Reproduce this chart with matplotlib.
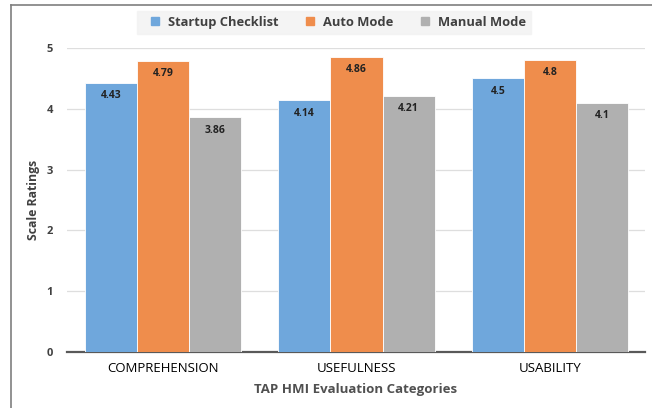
import numpy as np
import matplotlib.pyplot as plt
from matplotlib.lines import Line2D

categories = ["COMPREHENSION", "USEFULNESS", "USABILITY"]
series = ["Startup Checklist", "Auto Mode", "Manual Mode"]
startup = [4.43, 4.14, 4.5]
auto = [4.79, 4.86, 4.8]
manual = [3.86, 4.21, 4.1]
value_text = [["4.43", "4.14", "4.5"], ["4.79", "4.86", "4.8"], ["3.86", "4.21", "4.1"]]

colors = ["#6fa7dc", "#ef8d4c", "#b0b0b0"]

plt.rcParams["font.family"] = ["Open Sans", "DejaVu Sans"]

W, H = 652, 408
fig = plt.figure(figsize=(W / 100, H / 100), dpi=100)
ax = fig.add_axes([67 / W, 1 - 352 / H, (645 - 67) / W, (352 - 48) / H])

x = np.arange(len(categories))
bw = 0.269
for i, (vals, col) in enumerate(zip([startup, auto, manual], colors)):
    bars = ax.bar(x + (i - 1) * bw, vals, bw, color=col, edgecolor="white",
                  linewidth=0.6, zorder=3, label=series[i])
    for b, txt in zip(bars, value_text[i]):
        ax.text(b.get_x() + b.get_width() / 2, b.get_height() - 0.12, txt,
                ha="center", va="top", fontsize=7.5, fontweight="bold",
                color="#222222", zorder=4)

# category centres at x=163, 356, 550 px; 193.5 px per category
ax.set_xlim(-(163 - 67) / 193.5, 2 + (645 - 550) / 193.5)
ax.set_ylim(0, 5)
ax.set_yticks([0, 1, 2, 3, 4, 5])
ax.grid(axis="y", color="#dedede", linewidth=0.9, zorder=0)
for s in ["top", "right", "left"]:
    ax.spines[s].set_visible(False)
ax.spines["bottom"].set_color("#595959")
ax.spines["bottom"].set_linewidth(1.6)
ax.tick_params(axis="both", length=0)
ax.tick_params(axis="y", pad=10, labelsize=8)
for t in ax.get_yticklabels():
    t.set_fontweight("bold")
    t.set_color("#404040")
ax.set_xticks(x)
ax.set_xticklabels(categories, fontsize=9.5)
ax.tick_params(axis="x", pad=7)
ax.set_xlabel("TAP HMI Evaluation Categories", fontsize=9.5, fontweight="bold",
              color="#505050", labelpad=6)
ax.set_ylabel("Scale Ratings", fontsize=8.8, fontweight="bold", color="#404040",
              labelpad=5)

handles = [Line2D([], [], marker="s", linestyle="none", markersize=6,
                  markerfacecolor=c, markeredgecolor=c) for c in colors]
leg = fig.legend(handles, series, loc="center", bbox_to_anchor=(334 / W, 1 - 22.5 / H),
                 ncol=3, frameon=True, fontsize=9.3, handletextpad=0.05,
                 columnspacing=1.4, borderpad=0.35, fancybox=False)
leg.get_frame().set_facecolor("#f2f2f2")
leg.get_frame().set_edgecolor("#f2f2f2")
for t in leg.get_texts():
    t.set_fontweight("bold")
    t.set_color("#404040")

# outer frame (left and top edges visible)
fig.add_artist(Line2D([11 / W, 11 / W], [0, 1 - 5 / H], color="#7f7f7f", lw=1.2))
fig.add_artist(Line2D([11 / W, 1], [1 - 5 / H, 1 - 5 / H], color="#7f7f7f", lw=1.2))

fig.savefig("out.png", dpi=100)
